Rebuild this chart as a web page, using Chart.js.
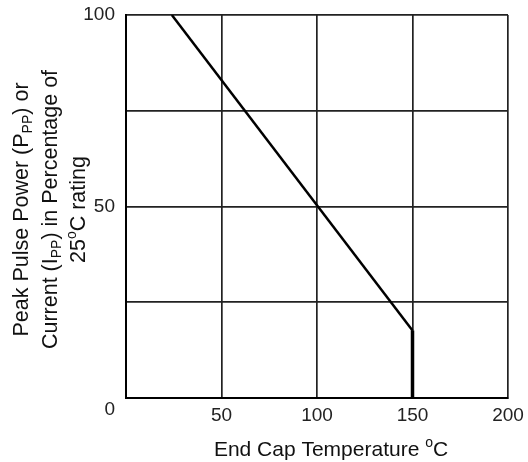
<!DOCTYPE html>
<html>
<head>
<meta charset="utf-8">
<script src="https://cdn.jsdelivr.net/npm/chart.js@4"></script>
<style>
  body { margin: 0; background: #fff; }
  #wrap { width: 528px; height: 462px; }
</style>
</head>
<body>
<div id="wrap"><canvas id="derating"></canvas></div>
<script>
// derating curve
const temps = [24, 150, 150]
const ratings = [100, 17.6, 0]
const y_labels = {100: '100', 50: '50', 0: ['', '0']}
const x_labels = {50: '50', 100: '100', 150: '150', 200: '200'}

const x_title = [{t: 'End Cap Temperature '}, {t: 'o', sup: true}, {t: 'C'}]
const y_title = [
  [{t: 'Peak Pulse Power (P'}, {t: 'PP', sub: true}, {t: ') or'}],
  [{t: 'Current (I'}, {t: 'PP', sub: true}, {t: ') in Percentage of'}],
  [{t: '25'}, {t: 'o', sup: true}, {t: 'C rating'}],
]

const title_font = 'Liberation Sans, Arial, sans-serif'
const tick_font = 'Liberation Sans, Arial, sans-serif'

function rich_width(ctx, segs, size){
  let w = 0
  segs.forEach(s => {
    ctx.font = (s.sub || s.sup ? Math.round(size * 0.65) : size) + 'px ' + title_font
    w += ctx.measureText(s.t).width
  })
  return w
}

function draw_rich(ctx, segs, cx, base, size){
  let x = cx - rich_width(ctx, segs, size) / 2
  segs.forEach(s => {
    ctx.font = (s.sub || s.sup ? Math.round(size * 0.65) : size) + 'px ' + title_font
    let dy = s.sub ? 4 : s.sup ? -9 : 0
    ctx.fillText(s.t, x, base + dy)
    x += ctx.measureText(s.t).width
  })
}

const axis_titles = {
  id: 'axis_titles',
  afterDraw(chart){
    const ctx = chart.ctx
    const area = chart.chartArea
    ctx.save()
    ctx.fillStyle = '#111'
    ctx.textBaseline = 'alphabetic'
    draw_rich(ctx, x_title, 331, 456, 21)
    ctx.translate(0, (area.top + area.bottom) / 2 + 3)
    ctx.rotate(-Math.PI / 2)
    const bases = [28, 57, 85]
    y_title.forEach((line, i) => draw_rich(ctx, line, 0, bases[i], 21.5))
    ctx.restore()
  }
}

function fit_y(s){
  s.width = 126
  s.paddingTop = 0
  s.paddingBottom = 0
}

function fit_x(s){
  s.height = 64
  s.paddingLeft = 0
  s.paddingRight = 0
}

function make_chart(){
  const canvas = document.getElementById('derating')
  return new Chart(canvas, {
    type: 'scatter',
    data: {
      datasets: [{
        data: temps.map((t, i) => ({x: t, y: ratings[i]})),
        showLine: true,
        borderColor: '#000',
        borderWidth: 2.5,
        pointRadius: 0,
        tension: 0,
        segment: {
          borderWidth: c => c.p0DataIndex === 1 ? 3.5 : 2.5
        }
      }]
    },
    options: {
      responsive: true,
      maintainAspectRatio: false,
      animation: false,
      layout: {padding: {top: 15, right: 20, left: 0, bottom: 0}},
      plugins: {legend: {display: false}, tooltip: {enabled: false}},
      scales: {
        x: {
          min: 0, max: 200,
          afterFit: fit_x,
          border: {display: true, color: '#000', width: 2},
          grid: {color: '#222', lineWidth: 1.7, drawTicks: false},
          ticks: {
            stepSize: 50, padding: 6, color: '#222',
            font: {family: tick_font, size: 19},
            callback: v => x_labels[v] || ''
          }
        },
        y: {
          min: 0, max: 100,
          afterFit: fit_y,
          border: {display: true, color: '#000', width: 2},
          grid: {color: '#222', lineWidth: 1.7, drawTicks: false},
          ticks: {
            stepSize: 25, padding: 11, color: '#222',
            font: {family: tick_font, size: 19},
            callback: v => y_labels[v] || ''
          }
        }
      }
    },
    plugins: [axis_titles]
  })
}

let chart = make_chart()
</script>
</body>
</html>
